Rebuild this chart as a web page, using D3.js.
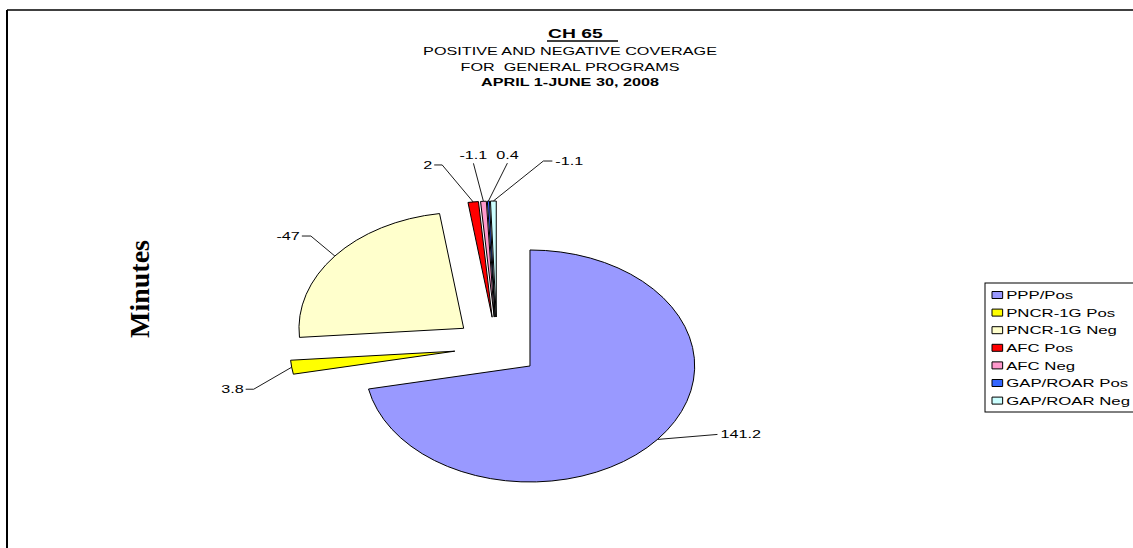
<!DOCTYPE html>
<html>
<head>
<meta charset="utf-8">
<script src="https://cdn.jsdelivr.net/npm/d3@7"></script>
<style>
  html, body { margin: 0; padding: 0; background: #fff; }
  svg { display: block; }
</style>
</head>
<body>
<script>

WIDTH = 1133;
HEIGHT = 548;
SX = 1.42;          // the sheet is stretched sideways
RADIUS = 116;
EXPLODE = 30;
CENTER = {x: 497, y: 347};
FONT = "'Liberation Sans', Arial, sans-serif";

// data
var CATEGORIES = ["PPP/Pos", "PNCR-1G Pos", "PNCR-1G Neg", "AFC Pos", "AFC Neg", "GAP/ROAR Pos", "GAP/ROAR Neg"];
var MINUTES = [141.2, 3.8, -47, 2, -1.1, 0.4, -1.1];
var COLORS = ["#9999FF", "#FFFF00", "#FFFFCC", "#FF0000", "#FF99CC", "#3366FF", "#CCFFFF"];

var TITLE = "CH 65";
var SUBTITLE = ["POSITIVE AND NEGATIVE COVERAGE", "FOR  GENERAL PROGRAMS"];
var PERIOD = "APRIL 1-JUNE 30, 2008";
var Y_LABEL = "Minutes";

// where each leader line bends, relative to the arc point, and which way the label sits
var LABEL_BEND = [[60, -5, "right", 0], [-38, 22, "left", 8], [-24, -20, "left", 9],
                  [-31, -37, "left", 8], [-10, -38, "up", 0], [19, -38, "up", 0], [50, -40, "right", 9]];

var svg = d3.select("body").append("svg")
    .attr("width", WIDTH)
    .attr("height", HEIGHT);

function stretchedText(x, y, str, anchor) {
    return svg.append("text")
        .attr("transform", "translate(" + x + "," + y + ") scale(" + SX + ",1)")
        .attr("text-anchor", anchor || "middle")
        .attr("font-family", FONT)
        .attr("font-size", "11.4px")
        .attr("fill", "#000")
        .style("white-space", "pre")
        .text(str);
}

// frame
svg.append("line").attr("x1", 7).attr("x2", WIDTH).attr("y1", 10).attr("y2", 10)
    .attr("stroke", "#000").attr("stroke-width", 1.4);
svg.append("line").attr("x1", 7).attr("x2", 7).attr("y1", 10).attr("y2", HEIGHT)
    .attr("stroke", "#000").attr("stroke-width", 2);

// titles
stretchedText(548, 38, TITLE, "start")
    .attr("font-size", "13.6px")
    .attr("font-weight", "bold");
svg.append("line").attr("x1", 547).attr("x2", 618).attr("y1", 41).attr("y2", 41)
    .attr("stroke", "#000").attr("stroke-width", 1.3);
SUBTITLE.forEach(function(s, i) {
    stretchedText(570, 55 + i * 15.5, s);
});
stretchedText(570, 86, PERIOD).attr("font-weight", "bold");

// axis title
svg.append("text")
    .attr("transform", "translate(149,289) rotate(-90)")
    .attr("text-anchor", "middle")
    .attr("font-family", "'Liberation Serif', 'Times New Roman', serif")
    .attr("font-weight", "bold")
    .attr("font-size", "28px")
    .text(Y_LABEL);

// pie
var pie = d3.pie().sort(null).value(d => Math.abs(d)).startAngle(0).endAngle(2 * Math.PI);
var arcs = pie(MINUTES);
var arc = d3.arc().innerRadius(0).outerRadius(RADIUS);

function apex(d) {
    var mid = (d.startAngle + d.endAngle) / 2;
    return {x: CENTER.x + EXPLODE * Math.sin(mid) * SX, y: CENTER.y - EXPLODE * Math.cos(mid)};
}

svg.selectAll(".slice")
    .data(arcs)
    .enter().append("path")
    .attr("class", "slice")
    .attr("transform", d => { var a = apex(d); return "translate(" + a.x + "," + a.y + ") scale(" + SX + ",1)"; })
    .attr("d", arc)
    .attr("fill", (d, i) => COLORS[i])
    .attr("stroke", "#000")
    .attr("stroke-width", 1)
    .attr("stroke-linejoin", "miter")
    .attr("vector-effect", "non-scaling-stroke");

// data labels with leader lines
arcs.forEach(function(d, i) {
    var a = apex(d);
    var mid = (d.startAngle + d.endAngle) / 2;
    var p = {x: a.x + RADIUS * Math.sin(mid) * SX, y: a.y - RADIUS * Math.cos(mid)};
    var b = LABEL_BEND[i];
    var e = {x: p.x + b[0], y: p.y + b[1]};
    var pts = [[p.x, p.y], [e.x, e.y]];
    var label = String(MINUTES[i]);
    if (b[2] === "left") {
        pts.push([e.x - b[3], e.y]);
        stretchedText(e.x - b[3] - 2, e.y, label, "end").attr("dy", "0.35em");
    } else if (b[2] === "right") {
        pts.push([e.x + b[3], e.y]);
        stretchedText(e.x + b[3] + 3, e.y, label, "start").attr("dy", "0.35em");
    } else {
        stretchedText(e.x, e.y - 4, label, "middle");
    }
    svg.append("path")
        .attr("d", d3.line()(pts))
        .attr("fill", "none")
        .attr("stroke", "#000")
        .attr("stroke-width", 0.9);
});

// legend
var legend = svg.append("g");
legend.append("rect")
    .attr("x", 985).attr("y", 283)
    .attr("width", 160).attr("height", 129)
    .attr("fill", "#fff")
    .attr("stroke", "#000")
    .attr("stroke-width", 1);

var item = legend.selectAll(".item")
    .data(CATEGORIES)
    .enter().append("g")
    .attr("class", "item")
    .attr("transform", (d, i) => "translate(992," + (295 + i * 17.6) + ") scale(" + SX + ",1)");

item.append("rect")
    .attr("x", 0).attr("y", -3.5)
    .attr("width", 7.5).attr("height", 7)
    .attr("fill", (d, i) => COLORS[i])
    .attr("stroke", "#000")
    .attr("stroke-width", 1)
    .attr("vector-effect", "non-scaling-stroke");

item.append("text")
    .attr("x", 10)
    .attr("dy", "0.35em")
    .attr("font-family", FONT)
    .attr("font-size", "11.8px")
    .text(d => d);

</script>
</body>
</html>
